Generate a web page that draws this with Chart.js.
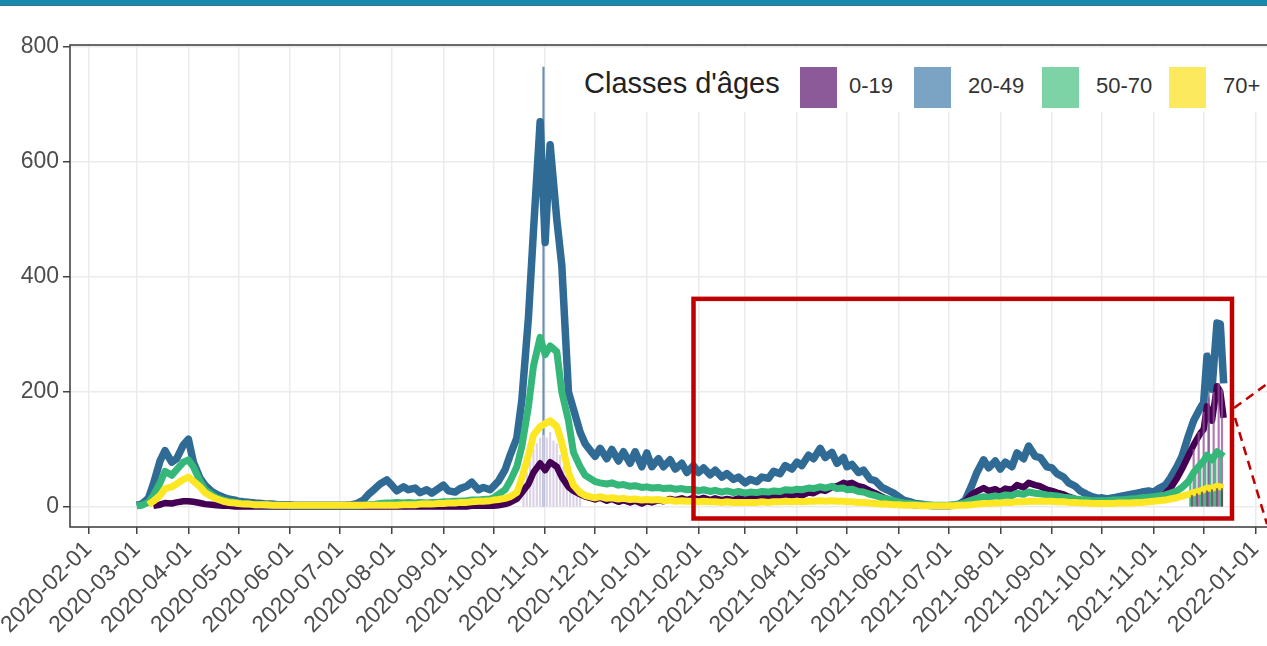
<!DOCTYPE html>
<html lang="fr">
<head>
<meta charset="utf-8">
<title>Classes d'âges</title>
<script src="https://cdn.jsdelivr.net/npm/chart.js@4.4.1/dist/chart.umd.min.js"></script>
<style>
  html, body { margin: 0; padding: 0; background: #fff; overflow: hidden; }
  #wrap { position: relative; width: 1267px; height: 646px; }
  #topbar { position: absolute; left: 0; top: 0; width: 1267px; height: 5px; background: #1789ad; border-bottom: 1px solid #3c6f88; z-index: 3; }
  #legend { position: absolute; left: 575px; top: 48px; width: 692px; height: 64px; background: #fff; z-index: 2;
            font-family: "Liberation Sans", Arial, sans-serif; color: #222; }
  #legend .title { position: absolute; left: 9px; top: 15px; font-size: 29px; line-height: 40px; white-space: nowrap; }
  #legend .key { position: absolute; top: 19px; width: 37px; height: 41px; }
  #legend .lab { position: absolute; top: 18px; font-size: 22px; line-height: 40px; color: #333; white-space: nowrap; }
</style>
</head>
<body>
<div id="wrap">
  <div id="topbar"></div>
  <canvas id="chart" width="1267" height="646"></canvas>
  <div id="legend"></div>
</div>
<script>
// ---- data ----
const ageClasses = ['0-19', '20-49', '50-70', '70+'];
const lineColors = ['#440154', '#2f6b94', '#35b779', '#fde725'];
const keyColors  = ['#8c5a98', '#7ba3c4', '#7dd3a5', '#fde95e'];

const xTickDates = ['2020-02-01','2020-03-01','2020-04-01','2020-05-01','2020-06-01','2020-07-01',
  '2020-08-01','2020-09-01','2020-10-01','2020-11-01','2020-12-01','2021-01-01','2021-02-01',
  '2021-03-01','2021-04-01','2021-05-01','2021-06-01','2021-07-01','2021-08-01','2021-09-01',
  '2021-10-01','2021-11-01','2021-12-01','2022-01-01'];
const yTicks = [0, 200, 400, 600, 800];

const dates = [
  '2020-03-01','2020-03-04','2020-03-08','2020-03-11','2020-03-15','2020-03-18','2020-03-22','2020-03-25','2020-03-29',
  '2020-04-01','2020-04-04','2020-04-08','2020-04-11','2020-04-15','2020-04-18','2020-04-22','2020-04-25','2020-04-29',
  '2020-05-01','2020-05-04','2020-05-08','2020-05-11','2020-05-15','2020-05-18','2020-05-22','2020-05-25','2020-05-29',
  '2020-06-01','2020-06-04','2020-06-08','2020-06-11','2020-06-15','2020-06-18','2020-06-22','2020-06-25','2020-06-29',
  '2020-07-01','2020-07-04','2020-07-08','2020-07-11','2020-07-15','2020-07-18','2020-07-22','2020-07-25','2020-07-29',
  '2020-08-01','2020-08-04','2020-08-08','2020-08-11','2020-08-15','2020-08-18','2020-08-22','2020-08-25','2020-08-29',
  '2020-09-01','2020-09-04','2020-09-08','2020-09-11','2020-09-15','2020-09-18','2020-09-22','2020-09-25','2020-09-29',
  '2020-10-01','2020-10-04','2020-10-08','2020-10-11','2020-10-15','2020-10-18','2020-10-22','2020-10-25','2020-10-29',
  '2020-11-01','2020-11-04','2020-11-08','2020-11-11','2020-11-15','2020-11-18','2020-11-22','2020-11-25','2020-11-29',
  '2020-12-01','2020-12-04','2020-12-08','2020-12-11','2020-12-15','2020-12-18','2020-12-22','2020-12-25','2020-12-29',
  '2021-01-01','2021-01-04','2021-01-08','2021-01-11','2021-01-15','2021-01-18','2021-01-22','2021-01-25','2021-01-29',
  '2021-02-01','2021-02-04','2021-02-08','2021-02-11','2021-02-15','2021-02-18','2021-02-22','2021-02-25',
  '2021-03-01','2021-03-04','2021-03-08','2021-03-11','2021-03-15','2021-03-18','2021-03-22','2021-03-25','2021-03-29',
  '2021-04-01','2021-04-04','2021-04-08','2021-04-11','2021-04-15','2021-04-18','2021-04-22','2021-04-25','2021-04-29',
  '2021-05-01','2021-05-04','2021-05-08','2021-05-11','2021-05-15','2021-05-18','2021-05-22','2021-05-25','2021-05-29',
  '2021-06-01','2021-06-04','2021-06-08','2021-06-11','2021-06-15','2021-06-18','2021-06-22','2021-06-25','2021-06-29',
  '2021-07-01','2021-07-04','2021-07-08','2021-07-11','2021-07-15','2021-07-18','2021-07-22','2021-07-25','2021-07-29',
  '2021-08-01','2021-08-04','2021-08-08','2021-08-11','2021-08-15','2021-08-18','2021-08-22','2021-08-25','2021-08-29',
  '2021-09-01','2021-09-04','2021-09-08','2021-09-11','2021-09-15','2021-09-18','2021-09-22','2021-09-25','2021-09-29',
  '2021-10-01','2021-10-04','2021-10-08','2021-10-11','2021-10-15','2021-10-18','2021-10-22','2021-10-25','2021-10-29',
  '2021-11-01','2021-11-04','2021-11-08','2021-11-11','2021-11-15','2021-11-18','2021-11-22','2021-11-25','2021-11-29',
  '2021-12-01','2021-12-03','2021-12-06','2021-12-09','2021-12-11','2021-12-13'
];

const age0_19 = [
  null, null, null, 2, 4, 7, 6, 8, 10,
  10, 9, 7, 5, 4, 3, 2, 2, 1,
  1, 1, 1, 1, 1, 1, 1, 1, 1,
  1, 1, 1, 1, 1, 1, 1, 1, 1,
  1, 1, 1, 1, 1, 1, 1, 1, 1,
  1, 1, 1, 1, 1, 1, 1, 1, 1,
  1, 1, 1, 1, 1, 2, 2, 2, 2,
  2, 3, 5, 8, 14, 25, 40, 60, 76,
  64, 78, 70, 52, 35, 28, 22, 18, 15,
  13, 16, 11, 14, 9, 12, 8, 11, 6,
  10, 8, 12, 10, 14, 12, 15, 12, 16,
  13, 16, 12, 15, 12, 14, 12, 15,
  14, 16, 15, 18, 17, 20, 18, 22, 20,
  22, 20, 25, 24, 30, 28, 34, 36, 42,
  40, 42, 36, 34, 28, 24, 18, 14, 10,
  8, 6, 4, 3, 2, 2, 2, 2, 2,
  2, 3, 5, 10, 22, 27, 33, 28, 31,
  26, 32, 30, 38, 34, 42, 38, 36, 30,
  28, 25, 22, 18, 14, 12, 10, 9, 8,
  8, 7, 8, 9, 10, 11, 12, 13, 14,
  16, 18, 24, 32, 50, 66, 90, 108, 128,
  135, 175, 150, 210, 200, 155
];

const age20_49 = [
  3, 5, 15, 40, 80, 98, 78, 84, 108,
  118, 78, 50, 38, 27, 22, 17, 14, 12,
  10, 9, 8, 7, 6, 5, 5, 4, 4,
  4, 3, 3, 3, 3, 3, 3, 3, 3,
  3, 3, 4, 6, 12, 22, 32, 40, 47,
  38, 28, 35, 30, 33, 25, 30, 24, 32,
  38, 28, 26, 32, 36, 43, 30, 34, 30,
  36, 45, 65, 90, 120, 185, 330, 480, 670,
  460, 630, 500, 420, 200, 170, 130, 110, 95,
  88, 102, 84, 100, 80, 96, 76, 96, 70,
  94, 70, 84, 70, 82, 66, 76, 60, 72,
  60, 68, 56, 64, 52, 58, 48, 52,
  42, 48, 44, 52, 50, 62, 58, 72, 66,
  78, 72, 90, 84, 102, 86, 95, 76, 86,
  70, 74, 60, 64, 48, 46, 34, 30, 24,
  18, 12, 9, 6, 5, 3, 2, 2, 2,
  2, 3, 6, 12, 38, 60, 82, 68, 80,
  66, 78, 70, 94, 84, 106, 88, 86, 70,
  68, 58, 52, 42, 36, 28, 22, 18, 15,
  16, 14, 16, 18, 20, 22, 24, 26, 28,
  26, 32, 38, 50, 70, 88, 125, 150, 172,
  182, 262, 205, 320, 318, 215
];

const age50_70 = [
  2, 3, 8, 20, 42, 62, 55, 65, 78,
  82, 70, 45, 30, 22, 16, 12, 10, 8,
  7, 6, 5, 4, 4, 3, 3, 3, 3,
  2, 2, 2, 2, 2, 2, 2, 2, 2,
  2, 2, 2, 2, 3, 4, 5, 6, 7,
  7, 8, 7, 8, 7, 8, 7, 8, 8,
  9, 9, 10, 10, 11, 12, 12, 13, 14,
  16, 22, 30, 45, 70, 105, 175, 245, 295,
  265, 280, 270, 200, 150, 95, 70, 55, 48,
  44, 42, 40, 42, 38, 39, 36, 37, 34,
  35, 33, 34, 32, 33, 31, 32, 30, 31,
  28, 30, 27, 29, 26, 28, 25, 27,
  24, 26, 25, 27, 26, 28, 27, 30, 29,
  31, 30, 33, 32, 35, 33, 36, 32, 33,
  30, 31, 27, 26, 22, 20, 16, 14, 11,
  9, 7, 6, 5, 4, 4, 3, 3, 3,
  3, 4, 5, 8, 12, 15, 18, 17, 19,
  18, 21, 20, 24, 22, 26, 24, 23, 21,
  20, 19, 17, 16, 14, 13, 12, 11, 11,
  11, 11, 12, 12, 13, 14, 15, 16, 17,
  18, 19, 21, 24, 28, 34, 45, 60, 74,
  80, 90, 82, 96, 92, 88
];

const age70plus = [
  null, null, 4, 10, 20, 32, 35, 40, 48,
  52, 45, 35, 25, 18, 14, 10, 8, 7,
  6, 5, 5, 4, 4, 4, 3, 3, 3,
  3, 3, 3, 3, 3, 3, 3, 3, 3,
  3, 3, 3, 3, 3, 3, 3, 3, 3,
  3, 3, 4, 4, 4, 5, 5, 5, 6,
  6, 7, 7, 8, 8, 9, 10, 10, 11,
  12, 13, 15, 18, 25, 50, 90, 125, 140,
  145, 150, 140, 112, 60, 38, 25, 20, 17,
  16, 18, 15, 16, 14, 15, 13, 14, 12,
  13, 12, 13, 11, 12, 10, 11, 10, 10,
  9, 10, 9, 9, 8, 9, 8, 8,
  8, 8, 8, 9, 8, 9, 9, 10, 9,
  10, 9, 10, 10, 11, 10, 11, 10, 10,
  9, 9, 8, 8, 7, 6, 5, 5, 4,
  4, 3, 3, 3, 2, 2, 2, 2, 2,
  2, 2, 3, 3, 4, 5, 6, 6, 7,
  7, 8, 8, 9, 9, 10, 10, 10, 10,
  10, 9, 9, 8, 8, 7, 7, 6, 6,
  6, 6, 6, 7, 7, 7, 8, 8, 9,
  10, 11, 12, 14, 16, 19, 22, 25, 28,
  30, 33, 32, 36, 35, 34
];

// thin daily bars that poke out of the thick lines
const paleBarDates = ['2020-10-19','2020-10-21','2020-10-23','2020-10-25','2020-10-27','2020-10-29','2020-10-31',
  '2020-11-02','2020-11-04','2020-11-06','2020-11-08','2020-11-10','2020-11-12','2020-11-14','2020-11-16',
  '2020-11-18','2020-11-20','2020-11-22'];
const paleBarValues = [40, 60, 80, 100, 110, 120, 125, 120, 130, 115, 110, 90, 70, 55, 40, 30, 25, 20];
const blueBarDates = ['2020-10-31', '2021-12-04'];
const blueBarValues = [765, 268];
const purpleBarDates = ['2021-11-25','2021-11-28','2021-12-01','2021-12-04','2021-12-07','2021-12-10','2021-12-12'];
const purpleBarValues = [100, 130, 165, 190, 200, 215, 205];
const greenBarDates = ['2021-11-23','2021-11-26','2021-11-29','2021-12-02','2021-12-05','2021-12-08','2021-12-11'];
const greenBarValues = [55, 68, 80, 88, 85, 95, 92];
const darkBarDates = ['2021-11-24','2021-11-27','2021-11-30','2021-12-03','2021-12-06','2021-12-09','2021-12-12'];
const darkBarValues = [20, 23, 26, 28, 30, 32, 32];

// ---- helpers ----
const dayNum = s => Date.UTC(+s.slice(0, 4), +s.slice(5, 7) - 1, +s.slice(8, 10)) / 86400000;
const toPoints = (ds, vs) => ds.map((d, i) => ({ x: dayNum(d), y: vs[i] }));

Chart.defaults.font.family = '"Liberation Sans", Arial, sans-serif';

// legend (HTML)
(function() {
  const lg = document.getElementById('legend');
  const t = document.createElement('div');
  t.className = 'title';
  t.textContent = "Classes d'âges";
  lg.appendChild(t);
  const keyLeft = [225, 339, 467, 594];
  const labLeft = [274, 393, 521, 648];
  ageClasses.forEach((a, i) => {
    const k = document.createElement('div');
    k.className = 'key';
    k.style.left = keyLeft[i] + 'px';
    k.style.background = keyColors[i];
    const l = document.createElement('div');
    l.className = 'lab';
    l.style.left = labLeft[i] + 'px';
    l.textContent = a;
    lg.append(k, l);
  });
})();

// panel border + red annotation
const panelPlugin = {
  id: 'panel',
  afterDatasetsDraw(chart) {
    const { ctx, chartArea: a } = chart;
    ctx.save();
    ctx.strokeStyle = '#444';
    ctx.lineWidth = 1.6;
    ctx.strokeRect(a.left, a.top, a.right - a.left + 5, a.bottom - a.top);
    ctx.restore();
  },
  afterDraw(chart) {
    const { ctx } = chart;
    const xs = chart.scales.x, ys = chart.scales.y;
    const x1 = xs.getPixelForValue(dayNum('2021-01-29'));
    const x2 = xs.getPixelForValue(dayNum('2021-12-18'));
    const y1 = ys.getPixelForValue(362);
    const y2 = ys.getPixelForValue(-20);
    ctx.save();
    ctx.strokeStyle = '#c00000';
    ctx.lineWidth = 4.5;
    ctx.strokeRect(x1, y1, x2 - x1, y2 - y1);
    ctx.lineWidth = 2.5;
    ctx.setLineDash([9, 6]);
    ctx.beginPath();
    ctx.moveTo(x2 + 2, ys.getPixelForValue(172));
    ctx.lineTo(chart.width, ys.getPixelForValue(214));
    ctx.moveTo(x2 + 3, ys.getPixelForValue(155));
    ctx.lineTo(chart.width, ys.getPixelForValue(-30));
    ctx.stroke();
    ctx.restore();
  }
};

const lineDs = (label, vals, color, width, order) => ({
  type: 'line', label, data: toPoints(dates, vals), borderColor: color, backgroundColor: color,
  borderWidth: width, pointRadius: 0, tension: 0, borderJoinStyle: 'round', borderCapStyle: 'butt',
  fill: false, spanGaps: false, order
});
const barDs = (label, ds, vs, color, order) => ({
  type: 'bar', label, data: toPoints(ds, vs), backgroundColor: color, borderWidth: 0,
  barThickness: 1.5, grouped: false, order
});

new Chart(document.getElementById('chart'), {
  type: 'line',
  data: {
    datasets: [
      barDs('dark', darkBarDates, darkBarValues, 'rgba(70,70,80,0.75)', 0),
      lineDs(ageClasses[3], age70plus, lineColors[3], 7, 1),
      barDs('green', greenBarDates, greenBarValues, 'rgba(53,183,121,0.9)', 2),
      lineDs(ageClasses[2], age50_70, lineColors[2], 7, 3),
      barDs('purple', purpleBarDates, purpleBarValues, 'rgba(150,80,150,0.75)', 4),
      lineDs(ageClasses[0], age0_19, lineColors[0], 6.5, 5),
      barDs('pale', paleBarDates, paleBarValues, 'rgba(215,205,228,0.9)', 6),
      lineDs(ageClasses[1], age20_49, lineColors[1], 7.5, 7),
      barDs('blue', blueBarDates, blueBarValues, '#6d8fb0', 8)
    ]
  },
  options: {
    responsive: false,
    animation: false,
    devicePixelRatio: 1,
    layout: { padding: { top: 45, left: 0, right: 0, bottom: 0 } },
    plugins: { legend: { display: false }, tooltip: { enabled: false } },
    scales: {
      x: {
        type: 'linear',
        offset: false,
        min: dayNum('2020-01-21'),
        max: dayNum('2022-01-08'),
        afterBuildTicks: s => { s.ticks = xTickDates.map(d => ({ value: dayNum(d) })); },
        afterFit: s => { s.paddingLeft = 0; s.paddingRight = 0; s.height = 119; },
        ticks: {
          autoSkip: false, minRotation: 45, maxRotation: 45, padding: 2,
          color: '#4d4d4d', font: { size: 23 },
          callback: (v, i) => xTickDates[i]
        },
        grid: { color: '#ebebeb', lineWidth: 1.5, tickColor: '#444', tickLength: 7, offset: false },
        border: { display: false }
      },
      y: {
        type: 'linear',
        min: -34.8,
        max: 803.5,
        afterBuildTicks: s => { s.ticks = yTicks.map(v => ({ value: v })); },
        afterFit: s => { s.width = 70; s.paddingTop = 0; s.paddingBottom = 0; },
        ticks: { color: '#4d4d4d', font: { size: 23 }, padding: 4 },
        grid: { color: '#ebebeb', lineWidth: 1.5, tickColor: '#444', tickLength: 7 },
        border: { display: false }
      }
    }
  },
  plugins: [panelPlugin]
});
</script>
</body>
</html>
